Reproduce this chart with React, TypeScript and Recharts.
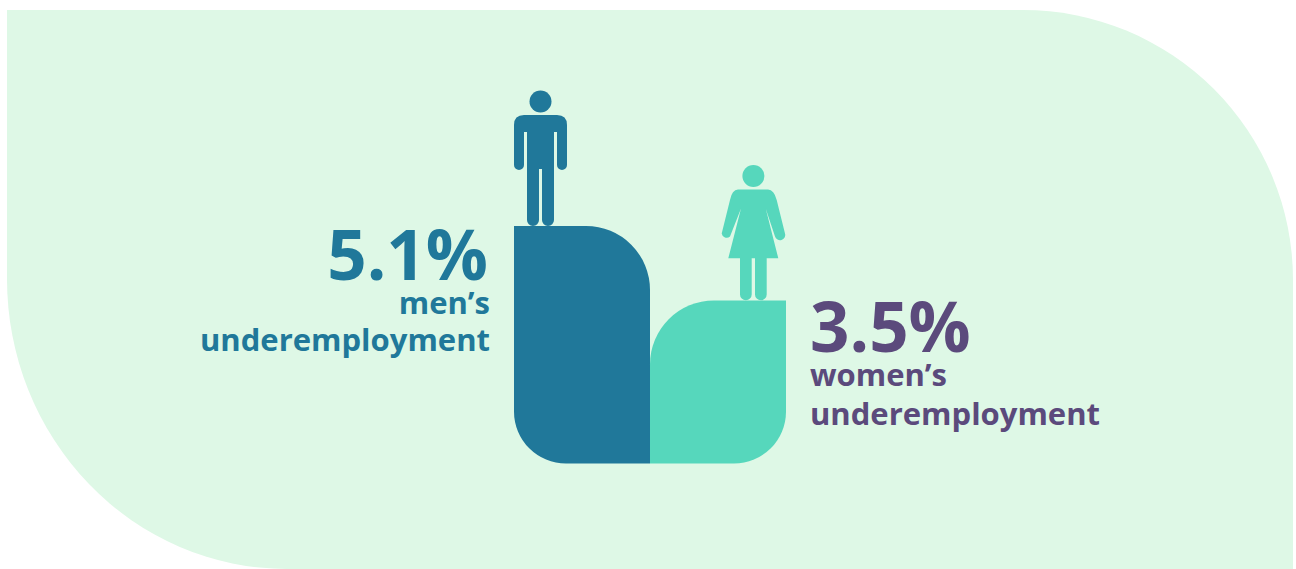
import { BarChart, Bar, XAxis, YAxis } from "recharts"

const categories = ["men's", "women's"]
const values = [5.1, 3.5]
const labelLines = ["men’s", "women’s"]
const labelNoun = "underemployment"

const data = categories.map((name, i) => ({ name, value: values[i], label: labelLines[i] }))

const TEAL = "#20789a"
const MINT = "#56d7bc"
const PURPLE = "#5b4a7c"
const FONT = "'Open Sans', sans-serif"

// top outer corner is the big one, bottom outer corner a bit smaller
const BIG_R = 64
const SMALL_R = 52

function ManIcon() {
  return (
    <g fill={TEAL}>
      <circle cx={26.5} cy={-124.5} r={11} />
      <path d="M10,-111 H43 Q53,-111 53,-101 V-61 A5,5 0 0 1 43,-61 V-94 H40 V-6 A6,6 0 0 1 28,-6 V-57 H25 V-6 A6,6 0 0 1 13,-6 V-94 H10 V-61 A5,5 0 0 1 0,-61 V-101 Q0,-111 10,-111 Z" />
    </g>
  )
}

function WomanIcon() {
  return (
    <g fill={MINT}>
      <circle cx={103.4} cy={-124.5} r={11} />
      <path d="M88,-111 H118 Q124,-111 126.7,-100.5 L135,-67 A5,5 0 0 1 125,-64 L115.7,-92 L128.3,-42.2 H116.7 V-6 A5.8,5.8 0 0 1 105,-6 V-42.2 H101.7 V-6 A5.8,5.8 0 0 1 90,-6 V-42.2 H78.3 L91,-92 L80,-64 A5,5 0 0 1 71.7,-67 L80,-100.5 Q82,-111 88,-111 Z" />
    </g>
  )
}

function LeafBar(props: any) {
  const { x, y, width, height, index, payload } = props
  const r = x + width
  const b = y + height

  if (index === 0) {
    const d = `M${x},${y} H${r - BIG_R} A${BIG_R},${BIG_R} 0 0 1 ${r},${y + BIG_R} V${b} H${x + SMALL_R} A${SMALL_R},${SMALL_R} 0 0 1 ${x},${b - SMALL_R} Z`
    return (
      <g>
        <path d={d} fill={TEAL} />
        <g transform={`translate(${x},${y})`}>
          <ManIcon />
          <g fontFamily={FONT} fill={TEAL} textAnchor="end">
            <text x={-26} y={54} fontSize={69} fontWeight={700}>{payload.value}%</text>
            <text x={-24} y={88} fontSize={31} fontWeight={700}>{payload.label}</text>
            <text x={-24} y={125} fontSize={31} fontWeight={700}>{labelNoun}</text>
          </g>
        </g>
      </g>
    )
  }

  const d = `M${x},${b} V${y + BIG_R} A${BIG_R},${BIG_R} 0 0 1 ${x + BIG_R},${y} H${r} V${b - SMALL_R} A${SMALL_R},${SMALL_R} 0 0 1 ${r - SMALL_R},${b} Z`
  return (
    <g>
      <path d={d} fill={MINT} />
      <g transform={`translate(${x},${y})`}>
        <WomanIcon />
        <g fontFamily={FONT} fill={PURPLE}>
          <text x={160} y={52} fontSize={69} fontWeight={700}>{payload.value}%</text>
          <text x={160} y={86} fontSize={31} fontWeight={700}>{payload.label}</text>
          <text x={160} y={125} fontSize={31} fontWeight={700}>{labelNoun}</text>
        </g>
      </g>
    </g>
  )
}

export default function App() {
  return (
    <div style={{ position: "absolute", left: 0, top: 0, width: 1296, height: 569, overflow: "hidden", background: "#fff" }}>
      {/* backdrop with the two big rounded corners */}
      <div
        style={{
          position: "absolute",
          left: 7,
          top: 10,
          width: 1286,
          height: 559,
          background: "#def8e6",
          borderTopRightRadius: 270,
          borderBottomLeftRadius: "280px 290px",
        }}
      />
      <div style={{ position: "absolute", left: 0, top: 0 }}>
        <BarChart
          width={1296}
          height={569}
          data={data}
          barCategoryGap={0}
          margin={{ top: 184, right: 510, bottom: 105.5, left: 514 }}
        >
          <XAxis dataKey="name" hide />
          <YAxis hide domain={[0, 6]} />
          <Bar dataKey="value" shape={LeafBar} isAnimationActive={false} />
        </BarChart>
      </div>
    </div>
  )
}
